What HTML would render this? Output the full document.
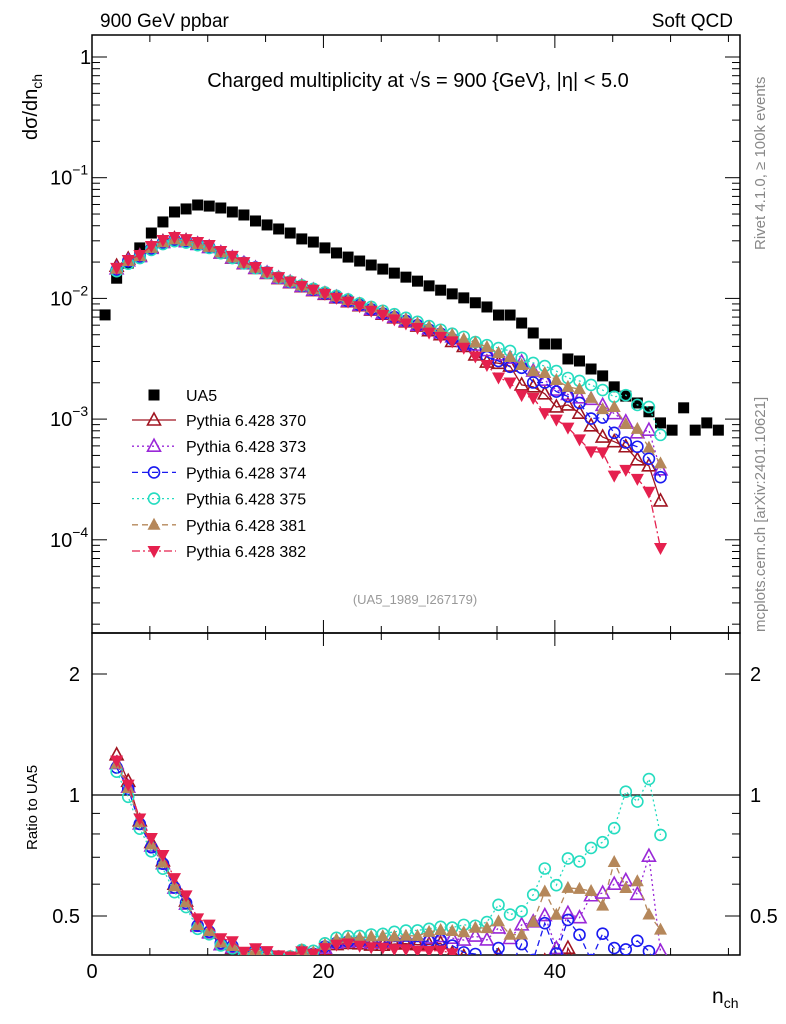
<!DOCTYPE html>
<html><head><meta charset="utf-8"><style>
html,body{margin:0;padding:0;background:#fff;width:786px;height:1024px;overflow:hidden}
svg{display:block;font-family:"Liberation Sans",sans-serif}
</style></head><body>
<svg id="c" width="786" height="1024" viewBox="0 0 786 1024" xmlns="http://www.w3.org/2000/svg">
<defs>
<clipPath id="clipMain"><rect x="92" y="35" width="648" height="598"/></clipPath>
<clipPath id="clipRatio"><rect x="92" y="633" width="648" height="322"/></clipPath>
</defs>
<g id="frame">
<rect x="92" y="35" width="648" height="598" fill="none" stroke="#000" stroke-width="1.5"/>
<rect x="92" y="633" width="648" height="322" fill="none" stroke="#000" stroke-width="1.5"/>
</g>
<text x="100" y="27" font-size="19">900 GeV ppbar</text>
<text x="733" y="27" font-size="19" text-anchor="end">Soft QCD</text>
<text x="418" y="87" font-size="20" text-anchor="middle">Charged multiplicity at √s = 900 {GeV}, |η| &lt; 5.0</text>
<text transform="translate(37,140) rotate(-90)" font-size="20">dσ/dn<tspan font-size="14" dy="5">ch</tspan></text>
<text transform="translate(37,850) rotate(-90)" font-size="15">Ratio to UA5</text>
<text x="712" y="1003" font-size="21">n<tspan font-size="14" dy="5">ch</tspan></text>
<text transform="translate(765,250) rotate(-90)" font-size="15" fill="#888">Rivet 4.1.0, ≥ 100k events</text>
<text transform="translate(765,632) rotate(-90)" font-size="15" fill="#888">mcplots.cern.ch [arXiv:2401.10621]</text>
<text x="415" y="604" font-size="13" fill="#999" text-anchor="middle">(UA5_1989_I267179)</text>
<g id="axes"></g>
<g id="mainMarks" clip-path="url(#clipMain)"></g>
<g id="ratioMarks" clip-path="url(#clipRatio)"></g>
<g id="legend"></g>
</svg>
<script>
const ua5N = [1,2,3,4,5,6,7,8,9,10,11,12,13,14,15,16,17,18,19,20,21,22,23,24,25,26,27,28,29,30,31,32,33,34,35,36,37,38,39,40,41,42,43,44,45,46,47,48,49,50,51,52,53,54];
const ua5Vals = [0.0073,0.0147,0.0196,0.0262,0.0348,0.0430,0.0520,0.0551,0.0594,0.0582,0.0561,0.0520,0.0491,0.0438,0.0406,0.0376,0.0348,0.0311,0.0293,0.0262,0.0238,0.0220,0.0204,0.0189,0.0175,0.0162,0.0150,0.0139,0.0127,0.0117,0.0109,0.0101,0.0092,0.00849,0.00728,0.00728,0.00625,0.00517,0.00419,0.00419,0.00315,0.00303,0.00260,0.00228,0.00185,0.00155,0.00136,0.00115,0.00093,0.00081,0.00124,0.00081,0.00093,0.00081];
const mcN = [2,3,4,5,6,7,8,9,10,11,12,13,14,15,16,17,18,19,20,21,22,23,24,25,26,27,28,29,30,31,32,33,34,35,36,37,38,39,40,41,42,43,44,45,46,47,48,49];
const p370 = [0.0185,0.0212,0.0226,0.0265,0.0295,0.0312,0.0300,0.0282,0.0265,0.0238,0.0216,0.0194,0.0177,0.0161,0.0146,0.0135,0.0125,0.0116,0.0108,0.0101,0.0094,0.0087,0.0080,0.0074,0.0069,0.0064,0.0059,0.0054,0.0050,0.0044,0.0040,0.0034,0.00297,0.0029,0.00275,0.00192,0.00185,0.00162,0.00126,0.00131,0.00112,0.00088,0.00071,0.00065,0.00059,0.00046,0.00041,0.00021];
const p373 = [0.0176,0.0205,0.0222,0.0260,0.0290,0.0305,0.0295,0.0280,0.0264,0.0238,0.0217,0.0195,0.0178,0.0162,0.0147,0.0136,0.0126,0.0117,0.0109,0.0102,0.0095,0.0088,0.0081,0.0075,0.0070,0.0065,0.0060,0.0056,0.0052,0.0048,0.0044,0.0041,0.0037,0.0034,0.0032,0.00297,0.0025,0.0021,0.00174,0.0016,0.0015,0.00146,0.0013,0.00111,0.00095,0.00077,0.00081,0.00038];
const p374 = [0.0172,0.0203,0.0222,0.0258,0.0290,0.0306,0.0297,0.0281,0.0266,0.0240,0.0219,0.0197,0.0180,0.0164,0.0149,0.0137,0.0127,0.0118,0.0110,0.0102,0.0095,0.0088,0.0081,0.0075,0.0070,0.0065,0.0060,0.0055,0.0051,0.0046,0.0041,0.0037,0.00327,0.00303,0.00271,0.00266,0.00201,0.00201,0.00169,0.00154,0.00136,0.00101,0.00103,0.00077,0.00064,0.00059,0.00047,0.00033];
const p375 = [0.0168,0.0194,0.0216,0.0252,0.0282,0.0298,0.0290,0.0276,0.0262,0.0237,0.0216,0.0195,0.0178,0.0163,0.0149,0.0138,0.0128,0.0120,0.0112,0.0105,0.0098,0.0091,0.0085,0.0079,0.0074,0.0069,0.0064,0.0059,0.0055,0.0051,0.0048,0.00435,0.0041,0.00388,0.00367,0.00321,0.00292,0.00275,0.00250,0.00219,0.00207,0.00192,0.00174,0.00153,0.00158,0.00131,0.00126,0.00074];
const p381 = [0.0176,0.0204,0.0224,0.0262,0.0292,0.0308,0.0298,0.0282,0.0267,0.0241,0.0219,0.0197,0.0180,0.0164,0.0149,0.0138,0.0128,0.0119,0.0111,0.0104,0.0097,0.0090,0.0084,0.0078,0.0072,0.0067,0.0062,0.0058,0.0054,0.0050,0.0046,0.0043,0.00396,0.00353,0.00327,0.00281,0.00250,0.00241,0.00211,0.00185,0.00177,0.00150,0.00121,0.00126,0.00091,0.00083,0.00058,0.00043];
const p382 = [0.0179,0.0208,0.0229,0.0272,0.0305,0.0323,0.0310,0.0293,0.0277,0.0247,0.0225,0.0200,0.0182,0.0166,0.0150,0.0138,0.0127,0.0118,0.0109,0.0101,0.0094,0.0086,0.0079,0.0073,0.0067,0.0062,0.0057,0.0052,0.0048,0.0044,0.0039,0.0033,0.00281,0.00221,0.00201,0.00158,0.00150,0.00112,0.00099,0.00085,0.00068,0.00054,0.00053,0.00034,0.00038,0.00032,0.00025,0.0000855];
const seriesNames = ["Pythia 6.428 370","Pythia 6.428 373","Pythia 6.428 374","Pythia 6.428 375","Pythia 6.428 381","Pythia 6.428 382"];
const xTicks = [0,20,40];
const ratioTicks = [0.5,1,2];
const ratioTickLabels = ["0.5","1","2"];

const NS="http://www.w3.org/2000/svg";
const X0=92,X1=740,XMAX=56;
function xs(n){return X0+(n/XMAX)*(X1-X0)+1.5;}
const LY1=57,DEC=120.7;
function ys(v){return LY1-Math.log10(v)*DEC;}
const RY1=795,OCT=121;
function yr(r){return RY1-Math.log2(r)*OCT;}
function el(tag,attrs,parent){const e=document.createElementNS(NS,tag);for(const k in attrs)e.setAttribute(k,attrs[k]);parent.appendChild(e);return e;}

const axes=document.getElementById('axes');
for(let v=0;v<=55;v+=5){
  const major=v%20===0, L=major?13:7, x=X0+(v/XMAX)*(X1-X0);
  const t1=el('line',{x1:x,x2:x,y1:955,y2:955-L,stroke:'#000'},axes);
  
  
  el('line',{x1:x,x2:x,y1:633,y2:633-L,stroke:'#000'},axes);
  el('line',{x1:x,x2:x,y1:633,y2:633+L,stroke:'#000'},axes);
  el('line',{x1:x,x2:x,y1:35,y2:35+L,stroke:'#000'},axes);
}
xTicks.forEach(v=>{
  const t=el('text',{x:X0+(v/XMAX)*(X1-X0),y:978,'font-size':20,'text-anchor':'middle'},axes);
  t.textContent=String(v);
  
  
});
for(let d=-5;d<=0;d++){
  for(let m=1;m<10;m++){
    const v=m*Math.pow(10,d), y=ys(v);
    if(y<35||y>633)continue;
    const L=m===1?15:8;
    el('line',{x1:X0,x2:X0+L,y1:y,y2:y,stroke:'#000'},axes);
    el('line',{x1:X1,x2:X1-L,y1:y,y2:y,stroke:'#000'},axes);
  }
}
[[0,"1"],[-1,"10"],[-2,"10"],[-3,"10"],[-4,"10"]].forEach(([d,s])=>{
  const y=ys(Math.pow(10,d));
  const t=el('text',{x:d===0?80:50,y:y+7,'font-size':20,'text-anchor':'start'},axes);
  
  
  t.textContent=s;
  if(d<0){const sp=el('tspan',{'font-size':14,dy:-10},t);sp.textContent=String(d).replace('-','−');}
});
for(let d=-2;d<=1;d++){
  for(let m=1;m<10;m++){
    const v=m*Math.pow(10,d), y=yr(v);
    if(y<633||y>955)continue;
    const maj=ratioTicks.includes(v);
    const L=maj?15:8;
    el('line',{x1:X0,x2:X0+L,y1:y,y2:y,stroke:'#000'},axes);
    el('line',{x1:X1,x2:X1-L,y1:y,y2:y,stroke:'#000'},axes);
  }
}
ratioTicks.forEach((v,i)=>{
  const y=yr(v)+7;
  const t=el('text',{x:80,y:y,'font-size':20,'text-anchor':'end'},axes);
  t.textContent=ratioTickLabels[i];
  
  
  const t2=el('text',{x:750,y:y,'font-size':20,'text-anchor':'start'},axes);
  t2.textContent=ratioTickLabels[i];
  
  
});
const ref=el('line',{x1:X0,x2:X1,y1:yr(1),y2:yr(1),stroke:'#000','stroke-width':1.3},axes);



const styles=[
 {col:'#a01420',dash:'',m:'triOpen'},
 {col:'#9a28d8',dash:'2,3',m:'triOpen'},
 {col:'#1a1af0',dash:'6,4',m:'circ'},
 {col:'#25dcc0',dash:'2,3',m:'circ'},
 {col:'#b5875a',dash:'6,4',m:'triFill'},
 {col:'#e5204e',dash:'8,3,2,3',m:'triDown'}
];
function marker(kind,x,y,col,parent){
  let e;
  if(kind==='sq') e=el('rect',{x:x-5.5,y:y-5.5,width:11,height:11,fill:'#000'},parent);
  else if(kind==='circ') e=el('circle',{cx:x,cy:y,r:5.5,fill:'none',stroke:col,'stroke-width':1.6},parent);
  else if(kind==='triOpen') e=el('polygon',{points:`${x},${y-7} ${x-6.5},${y+5} ${x+6.5},${y+5}`,fill:'none',stroke:col,'stroke-width':1.6},parent);
  else if(kind==='triFill') e=el('polygon',{points:`${x},${y-7} ${x-6.5},${y+5} ${x+6.5},${y+5}`,fill:col},parent);
  else e=el('polygon',{points:`${x},${y+7} ${x-6.5},${y-5} ${x+6.5},${y-5}`,fill:col},parent);
  return e;
}
const mainG=document.getElementById('mainMarks');
const ratioG=document.getElementById('ratioMarks');
const allSeries=[p370,p373,p374,p375,p381,p382];

ua5N.forEach((n,i)=>{
  const m=marker('sq',xs(n),ys(ua5Vals[i]),'#000',mainG);
  
  
});
allSeries.forEach((arr,si)=>{
  const st=styles[si];
  const pts=mcN.map((n,i)=>`${xs(n)},${ys(arr[i])}`).join(' ');
  const pl=el('polyline',{points:pts,fill:'none',stroke:st.col,'stroke-width':1.3,'stroke-dasharray':st.dash},mainG);
  
  
  mcN.forEach((n,i)=>{
    const m=marker(st.m,xs(n),ys(arr[i]),st.col,mainG);
    
    
  });
  const rpts=mcN.map((n,i)=>{const r=arr[i]/ua5Vals[ua5N.indexOf(n)];return [xs(n),yr(r)];});
  const rl=el('polyline',{points:rpts.map(p=>p.join(',')).join(' '),fill:'none',stroke:st.col,'stroke-width':1.3,'stroke-dasharray':st.dash},ratioG);
  
  
  rpts.forEach(p=>{
    const m=marker(st.m,p[0],p[1],st.col,ratioG);
    
    
  });
});

const lg=document.getElementById('legend');
const ua5Leg=marker('sq',154,395,'#000',lg);


const lt=el('text',{x:186,y:401,'font-size':16},lg);
lt.textContent='UA5';


seriesNames.forEach((nm,i)=>{
  const y=420+i*26.2, st=styles[i];
  const ln=el('line',{x1:132,x2:176,y1:y,y2:y,stroke:st.col,'stroke-width':1.3,'stroke-dasharray':st.dash},lg);
  
  
  const mk=marker(st.m,154,y,st.col,lg);
  
  
  const t=el('text',{x:186,y:y+6,'font-size':16},lg);
  t.textContent=nm;
  
  
});
</script>
</body></html>
